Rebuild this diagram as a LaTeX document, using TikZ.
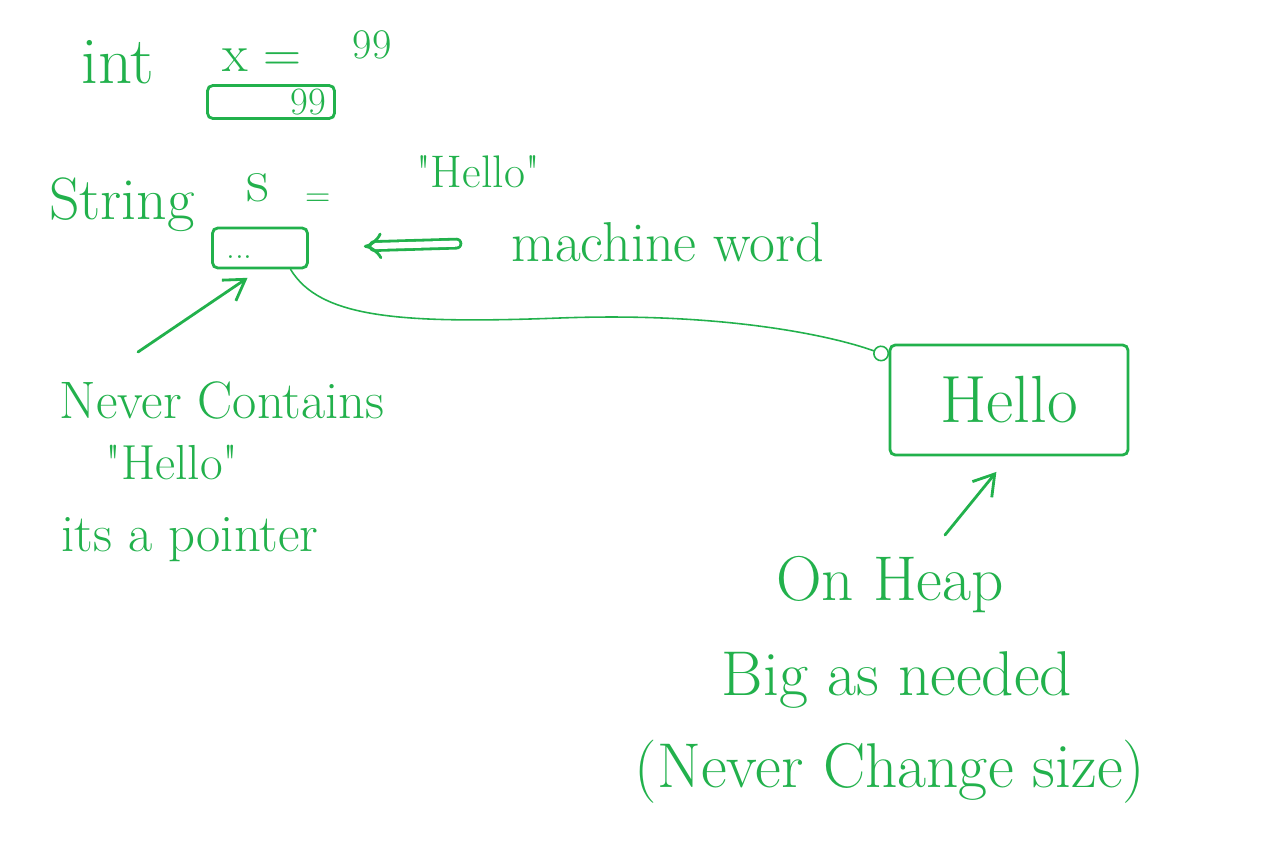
\documentclass[tikz,border=0pt]{standalone}
\definecolor{InkGreen}{RGB}{34,177,76}
\usetikzlibrary{arrows.meta, calc}

\begin{document}
\begin{tikzpicture}[x=0.2mm, y=-0.2mm,
	ink/.style={InkGreen, line width=1.6pt, line cap=round, line join=round},
	hand/.style={text=InkGreen, inner sep=0pt, font=\fontsize{#1}{#1}\selectfont},
	cell/.style={draw=InkGreen, line width=1.6pt, rounded corners=3pt, inner sep=0pt},
	arr/.style={ink, -{Straight Barb[length=4mm, width=5mm]}}]
\useasboundingbox (0,0) rectangle (1264,847);
% int x = 99
\node[hand=38] (int) at (118,62) {int};
\node[hand=30] (xeq) at (262,60) {x =};
\node[hand=24] (xval) at (372,45) {99};
\node[cell, minimum width=25.4mm, minimum height=6.6mm, text width=22mm, align=right, hand=22] (xbox) at (271,102) {99};
% String s = "Hello"
\node[hand=34] (str) at (122,205) {String};
\node[hand=36] (svar) at (258,188) {s};
\node[hand=20] (seq) at (318,200) {=};
\node[hand=26] (lit) at (478,172) {\textquotedbl Hello\textquotedbl};
\node[cell, minimum width=19mm, minimum height=8mm] (sbox) at (260,248) {};
\node[hand=20, anchor=base west] (dots) at (226,258) {...};
\node[hand=32] (mw) at (668,242) {machine word};
\draw[ink, double, double distance=3.5pt, -{Implies}, shorten <=11mm, shorten >=11mm] (mw.west) -- (sbox.east);
% notes on the pointer
\node[hand=30] (never) at (222,400) {Never Contains};
\node[hand=28] (nhello) at (172,462) {\textquotedbl Hello\textquotedbl};
\node[hand=30] (ptr) at (190,540) {its a pointer};
\coordinate (ptrtail) at (138,352);
\draw[arr, shorten >=3mm] (ptrtail) -- (sbox.south);
% heap
\node[cell, minimum width=47.6mm, minimum height=22mm, hand=38] (heap) at (1009,400) {Hello};
\coordinate (dip) at (560,318);
\draw[ink, line width=0.9pt, -{Circle[open, length=3.2mm]}] (sbox.-35) .. controls (320,318) and (400,324) .. (dip) .. controls (720,312) and (830,335) .. (heap.160);
\node[hand=36] (onheap) at (890,585) {On Heap};
\node[hand=36] (big) at (897,680) {Big as needed};
\node[hand=36] (nochange) at (890,772) {(Never Change size)};
\coordinate (heaptail) at (945,535);
\draw[arr, shorten >=4mm] (heaptail) -- (heap.south);
\end{tikzpicture}
\end{document}
